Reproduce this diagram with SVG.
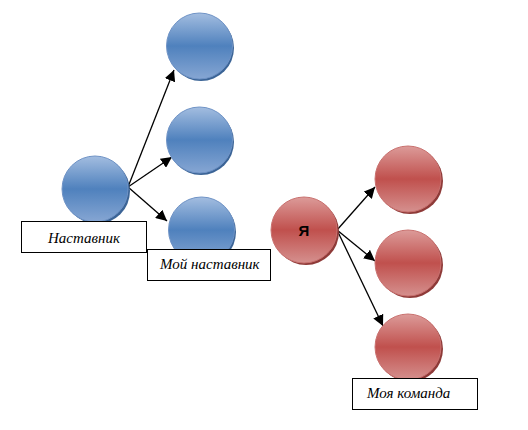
<svg xmlns="http://www.w3.org/2000/svg" width="528" height="430" viewBox="0 0 528 430">
<defs>
<linearGradient id="gb" x1="0" y1="0" x2="0" y2="1">
<stop offset="0" stop-color="#a3bde0"/>
<stop offset="0.5" stop-color="#4f81bd"/>
<stop offset="1" stop-color="#86a6d3"/>
</linearGradient>
<linearGradient id="gr" x1="0" y1="0" x2="0" y2="1">
<stop offset="0" stop-color="#dc9b99"/>
<stop offset="0.5" stop-color="#c0504d"/>
<stop offset="1" stop-color="#d5908e"/>
</linearGradient>
<marker id="ah" viewBox="0 0 10 10" refX="10" refY="5" markerWidth="11" markerHeight="11" markerUnits="userSpaceOnUse" orient="auto">
<path d="M0,0 L10,5 L0,10 Z" fill="#000"/>
</marker>
<style>
.b{fill:url(#gb);stroke:#6f93c6;stroke-width:1}
.bs{fill:#3b6496}
.r{fill:url(#gr);stroke:#c9716f;stroke-width:1}
.rs{fill:#8e3a38}
.lbl{fill:#fff;stroke:#000;stroke-width:1}
.t{font-family:"Liberation Serif","Times New Roman",serif;font-style:italic;font-size:15px;fill:#000}
.c{stroke:#000;stroke-width:1.3;fill:none;marker-end:url(#ah)}
</style>
</defs>
<g id="connectors">
<line class="c" x1="128" y1="187" x2="174" y2="70"/>
<line class="c" x1="128" y1="187" x2="172" y2="157"/>
<line class="c" x1="128" y1="187" x2="167" y2="221"/>
<line class="c" x1="337" y1="230" x2="375" y2="187"/>
<line class="c" x1="337" y1="230" x2="375" y2="261"/>
<line class="c" x1="337" y1="230" x2="383" y2="326"/>
</g>
<g id="b1"><circle class="bs" cx="201" cy="48" r="33"/><circle class="b" cx="199.5" cy="46" r="33"/></g>
<g id="b2"><circle class="bs" cx="201" cy="142" r="33"/><circle class="b" cx="199.5" cy="140" r="33"/></g>
<g id="b3"><circle class="bs" cx="203" cy="232" r="33"/><circle class="b" cx="201.5" cy="230" r="33"/></g>
<g id="nastavnik"><circle class="bs" cx="97" cy="191" r="33"/><circle class="b" cx="95" cy="189" r="33"/></g>
<g id="label-nastavnik"><rect class="lbl" x="21.5" y="221.5" width="125" height="31"/><text class="t" x="48" y="243">Наставник</text></g>
<g id="label-moy"><rect class="lbl" x="147.5" y="249.5" width="123" height="31"/><text class="t" x="160" y="269">Мой наставник</text></g>
<g id="ya"><circle class="rs" cx="306" cy="232" r="33"/><circle class="r" cx="304" cy="230" r="33"/><text x="304" y="236" text-anchor="middle" font-family="Liberation Sans, Arial, sans-serif" font-weight="bold" font-size="15" fill="#000">Я</text></g>
<g id="r1"><circle class="rs" cx="410" cy="181" r="33"/><circle class="r" cx="408" cy="179" r="33"/></g>
<g id="r2"><circle class="rs" cx="410" cy="265" r="33"/><circle class="r" cx="408" cy="263" r="33"/></g>
<g id="r3"><circle class="rs" cx="410" cy="349" r="33"/><circle class="r" cx="408" cy="347" r="33"/></g>
<g id="label-komanda"><rect class="lbl" x="352.5" y="378.5" width="125" height="31"/><text class="t" x="367" y="398">Моя команда</text></g>
</svg>
